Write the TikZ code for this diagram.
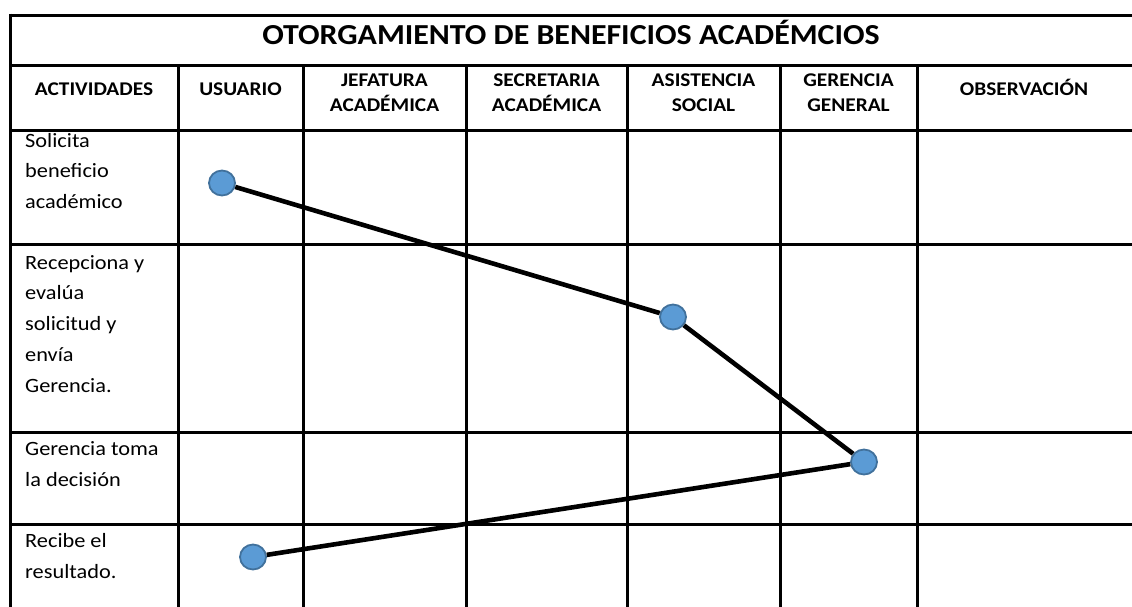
\documentclass[tikz,border=0pt]{standalone}
\usepackage{fontspec}
\usetikzlibrary{shapes.geometric}
\setmainfont{Carlito}[FakeStretch=1.1]
\definecolor{dotfill}{HTML}{5B9BD5}
\definecolor{dotline}{HTML}{41719C}
\begin{document}
\begin{tikzpicture}[x=1pt,y=-1pt,
  grid/.style={line width=3pt,black},
  link/.style={line width=4.6pt,black},
  dot/.style={ellipse,minimum width=26pt,minimum height=25pt,inner sep=0pt,fill=dotfill,draw=dotline,line width=1.8pt},
  ttl/.style={font=\fontsize{29}{32}\selectfont\bfseries,inner sep=0pt,anchor=base},
  hdr/.style={font=\fontsize{19.4}{25}\selectfont\bfseries,inner sep=0pt,anchor=base,align=center},
  act/.style={font=\fontsize{20.3}{30.7}\selectfont,inner sep=0pt,anchor=base west,align=left}
]
\useasboundingbox (0,0) rectangle (1132,606);
% grid
\draw[grid] (10,15) -- (1140,15);
\foreach \y in {65,130,244,432,524} \draw[grid] (10,\y) -- (1140,\y);
\draw[grid] (10,13.5) -- (10,610);
\foreach \x in {178,303,466,627,780,917} \draw[grid] (\x,65) -- (\x,610);
% title
\node[ttl] (title) at (571,44) {OTORGAMIENTO DE BENEFICIOS ACADÉMCIOS};
% headers (base = last line)
\node[hdr] (h1) at (94,95) {ACTIVIDADES};
\node[hdr] (h2) at (240.5,95) {USUARIO};
\node[hdr] (h3) at (384.5,111) {JEFATURA\\ACADÉMICA};
\node[hdr] (h4) at (546.5,111) {SECRETARIA\\ACADÉMICA};
\node[hdr] (h5) at (703.5,111) {ASISTENCIA\\SOCIAL};
\node[hdr] (h6) at (848.5,111) {GERENCIA\\GENERAL};
\node[hdr] (h7) at (1024,95) {OBSERVACIÓN};
% activities (base = last line)
\node[act] (a1) at (25,208.5) {Solicita\\beneficio\\académico};
\node[act] (a2) at (25,392) {Recepciona y\\evalúa\\solicitud y\\envía\\Gerencia.};
\node[act] (a3) at (25,486) {Gerencia toma\\la decisión};
\node[act] (a4) at (25,578) {Recibe el\\resultado.};
% dots
\node[dot] (d1) at (222,183) {};
\node[dot] (d2) at (673,317) {};
\node[dot] (d3) at (864,462) {};
\node[dot] (d4) at (253,557) {};
\draw[link] (d1) -- (d2);
\draw[link] (d2) -- (d3);
\draw[link] (d3) -- (d4);
\end{tikzpicture}
\end{document}
